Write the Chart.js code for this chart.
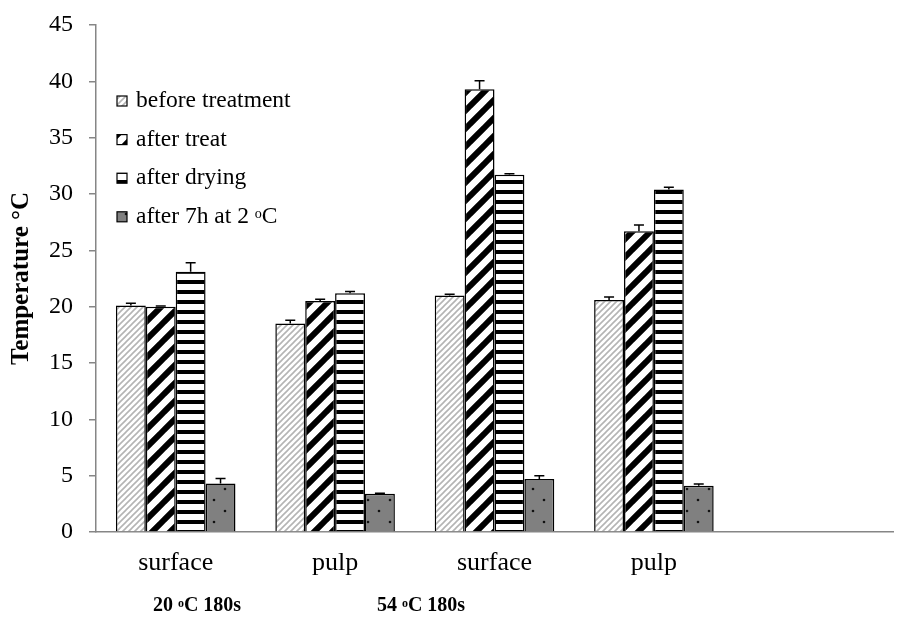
<!DOCTYPE html>
<html>
<head>
<meta charset="utf-8">
<script src="https://cdn.jsdelivr.net/npm/chart.js@4.4.0/dist/chart.umd.min.js"></script>
<style>
  html, body { margin: 0; padding: 0; background: #fff; }
  #chart { display: block; }
</style>
</head>
<body>
<canvas id="chart" width="897" height="623"></canvas>
<script>
// categories (last slot stays empty, as in the original layout)
const categories = ['surface', 'pulp', 'surface', 'pulp', ''];
const groupTemps = ['20', '54'];

// mean temperatures (°C) and their error bars
const beforeTreatment = [20.1, 18.5, 21.0, 20.6, null];
const beforeTreatmentErr = [0.2, 0.3, 0.1, 0.25, null];
const afterTreat = [20.0, 20.5, 39.3, 26.7, null];
const afterTreatErr = [0.05, 0.15, 0.75, 0.55, null];
const afterDrying = [23.1, 21.2, 31.7, 30.4, null];
const afterDryingErr = [0.8, 0.15, 0.1, 0.2, null];
const after7h = [4.3, 3.4, 4.7, 4.1, null];
const after7hErr = [0.45, 0.05, 0.3, 0.15, null];

const SERIF = "'Liberation Serif', 'Times New Roman', serif";
const AXIS_GREY = '#868686';

// fill patterns for the four series
function makePattern(kind) {
    const c = document.createElement('canvas');
    const x = c.getContext('2d');
    if (kind === 'lightDiag' || kind === 'blackDiag') {
        const s = kind === 'lightDiag' ? 6 : 18;
        c.width = s; c.height = s;
        x.fillStyle = '#fff';
        x.fillRect(0, 0, s, s);
        x.strokeStyle = kind === 'lightDiag' ? '#b4b4b4' : '#000';
        x.lineWidth = kind === 'lightDiag' ? 1.6 : 6;
        x.beginPath();
        [-s, 0, s].forEach(k => {
            x.moveTo(k - 2, s + 2);
            x.lineTo(k + s + 2, -2);
        });
        x.stroke();
    } else if (kind === 'hStripes') {
        c.width = 10; c.height = 10;
        x.fillStyle = '#fff';
        x.fillRect(0, 0, 10, 10);
        x.fillStyle = '#000';
        x.fillRect(0, 0, 10, 4);
    } else {
        c.width = 22; c.height = 22;
        x.fillStyle = '#808080';
        x.fillRect(0, 0, 22, 22);
        x.fillStyle = '#111';
        [[5, 5], [16, 16]].forEach(([px, py]) => {
            x.beginPath();
            x.arc(px, py, 1.3, 0, Math.PI * 2);
            x.fill();
        });
    }
    return x.createPattern(c, 'repeat');
}

const series = [
    { label: 'before treatment', data: beforeTreatment, err: beforeTreatmentErr, fill: makePattern('lightDiag') },
    { label: 'after treat', data: afterTreat, err: afterTreatErr, fill: makePattern('blackDiag') },
    { label: 'after drying', data: afterDrying, err: afterDryingErr, fill: makePattern('hStripes') },
    { label: 'after 7h at 2 ', sup: 'o', tail: 'C', data: after7h, err: after7hErr, fill: makePattern('dots') }
];

// text with a small raised "o" (degree mark)
function drawRich(ctx, parts, x, y, size, weight) {
    let w = 0;
    parts.forEach(p => {
        ctx.font = `${weight} ${p.small ? size * 0.6 : size}px ${SERIF}`;
        p.w = ctx.measureText(p.t).width;
        w += p.w;
    });
    return function (align) {
        let cx = align === 'center' ? x - w / 2 : x;
        parts.forEach(p => {
            ctx.font = `${weight} ${p.small ? size * 0.6 : size}px ${SERIF}`;
            ctx.fillText(p.t, cx, p.small ? y - size * 0.12 : y);
            cx += p.w;
        });
    };
}

const errorBars = {
    id: 'errorBars',
    afterDatasetsDraw(chart) {
        const ctx = chart.ctx;
        const yScale = chart.scales.y;
        ctx.save();
        ctx.strokeStyle = '#000';
        ctx.lineWidth = 1.5;
        chart.data.datasets.forEach((ds, i) => {
            const meta = chart.getDatasetMeta(i);
            meta.data.forEach((bar, j) => {
                const v = ds.data[j];
                const e = ds.errors[j];
                if (v == null || e == null) return;
                const top = yScale.getPixelForValue(v + e);
                ctx.beginPath();
                ctx.moveTo(bar.x, bar.y);
                ctx.lineTo(bar.x, top);
                ctx.moveTo(bar.x - 5, top);
                ctx.lineTo(bar.x + 5, top);
                ctx.stroke();
            });
        });
        ctx.restore();
    }
};

const legendAndGroups = {
    id: 'legendAndGroups',
    afterDraw(chart) {
        const ctx = chart.ctx;
        ctx.save();
        ctx.textBaseline = 'middle';
        ctx.fillStyle = '#000';
        // legend in the upper left of the plot
        series.forEach((s, i) => {
            const y = 101 + i * 38.6;
            ctx.fillStyle = s.fill;
            ctx.fillRect(117, y - 5, 10, 10);
            ctx.strokeStyle = '#000';
            ctx.lineWidth = 1.2;
            ctx.strokeRect(117, y - 5, 10, 10);
            ctx.fillStyle = '#000';
            const parts = [{ t: s.label }];
            if (s.sup) parts.push({ t: s.sup, small: true }, { t: s.tail });
            drawRich(ctx, parts, 136, y, 23.5, 'normal')('left');
        });
        // treatment group labels under the categories
        const centers = [197, 421];
        groupTemps.forEach((t, i) => {
            drawRich(ctx, [{ t: t + ' ' }, { t: 'o', small: true }, { t: 'C 180s' }],
                centers[i], 606, 20, 'bold')('center');
        });
        ctx.restore();
    }
};

new Chart(document.getElementById('chart'), {
    type: 'bar',
    data: {
        labels: categories,
        datasets: series.map(s => ({
            label: s.label,
            data: s.data,
            errors: s.err,
            backgroundColor: s.fill,
            borderColor: '#000',
            borderWidth: 1.5,
            categoryPercentage: 0.75,
            barPercentage: 1.0
        }))
    },
    options: {
        responsive: false,
        animation: false,
        layout: { padding: { top: 25, right: 4, left: 0, bottom: 0 } },
        plugins: {
            legend: { display: false },
            tooltip: { enabled: false }
        },
        scales: {
            x: {
                grid: { display: true, drawOnChartArea: false, drawTicks: false },
                border: { display: true, color: AXIS_GREY, width: 1.5 },
                ticks: { color: '#000', font: { family: SERIF, size: 26 }, padding: 16, maxRotation: 0 },
                afterFit(scale) { scale.height = 91; }
            },
            y: {
                min: 0,
                max: 45,
                ticks: { stepSize: 5, color: '#000', font: { family: SERIF, size: 24 }, padding: 16 },
                grid: { display: true, drawOnChartArea: false, drawTicks: true, tickLength: 7, color: AXIS_GREY, lineWidth: 1.5 },
                border: { display: true, color: AXIS_GREY, width: 1.5 },
                title: {
                    display: true,
                    text: 'Temperature °C',
                    color: '#000',
                    font: { family: SERIF, size: 25, weight: 'bold' },
                    padding: { top: 7, bottom: 0 }
                },
                afterFit(scale) {
                    scale.width = 96;
                    scale.paddingTop = 0;
                    scale.paddingBottom = 0;
                }
            }
        }
    },
    plugins: [errorBars, legendAndGroups]
});
</script>
</body>
</html>
